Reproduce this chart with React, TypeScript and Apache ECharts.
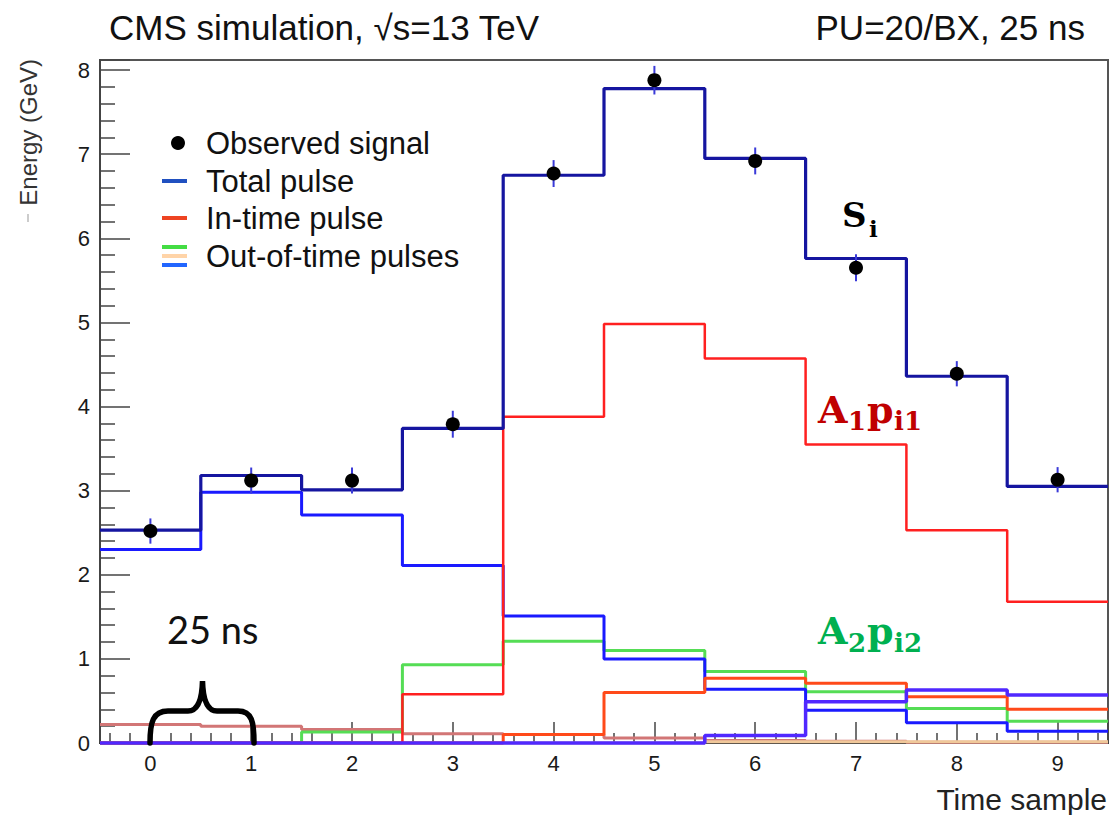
import React, { useEffect, useRef } from "react";
import * as echarts from "echarts";

// ---- data ----
const samples = [0, 1, 2, 3, 4, 5, 6, 7, 8, 9];
const observedSignal = [2.52, 3.12, 3.12, 3.79, 6.77, 7.88, 6.92, 5.65, 4.39, 3.13];
const observedError = [0.15, 0.155, 0.155, 0.16, 0.16, 0.17, 0.16, 0.16, 0.15, 0.15];
const totalPulse = [2.53, 3.18, 3.01, 3.74, 6.75, 7.78, 6.95, 5.76, 4.36, 3.05];
const inTimePulse = [0, 0, 0, 0.58, 3.88, 4.98, 4.57, 3.55, 2.53, 1.68];
const ootBlue = [2.3, 2.98, 2.71, 2.11, 1.51, 1.0, 0.64, 0.39, 0.24, 0.14];
const ootGreen = [0, 0, 0.13, 0.93, 1.21, 1.1, 0.85, 0.61, 0.41, 0.26];
const ootOrange = [0, 0, 0, 0, 0.1, 0.6, 0.77, 0.71, 0.55, 0.4];
const ootViolet = [0, 0, 0, 0, 0, 0, 0.09, 0.49, 0.63, 0.57];
const ootFaded = [0.22, 0.2, 0.16, 0.11, 0.1, 0.06, 0.03, 0.02, 0.01, 0.01];
const ootBeige = [0, 0, 0, 0, 0, 0, 0.015, 0.015, 0.015, 0.015];

const legendLabels = ["Observed signal", "Total pulse", "In-time pulse", "Out-of-time pulses"];

const SANS = "Liberation Sans";
const SERIF = "DejaVu Serif";

const BRACE_D =
  "M 150 743 C 150 722 153 711 168 711 L 188 711 C 198 711 202 700 202.5 681 C 203 700 207 711 217 711 L 238 711 C 252 711 254 722 254 743";
echarts.graphic.registerShape("brace", echarts.graphic.extendPath(BRACE_D, {}));

const stepData = (vals: number[]) =>
  vals.flatMap((v, i) => [
    [samples[i] - 0.5, v],
    [samples[i] + 0.5, v],
  ]);

const histLine = (name: string, vals: number[], color: string, width: number, z: number) => ({
  name,
  type: "line",
  data: stepData(vals),
  symbol: "none",
  showSymbol: false,
  clip: false,
  silent: true,
  z,
  lineStyle: { color, width },
});

const txt = (
  text: string,
  x: number,
  y: number,
  fontSize: number,
  fill: string,
  opts: any = {}
) => ({
  type: "text",
  x,
  y,
  z: 100,
  rotation: opts.rotation || 0,
  style: {
    text,
    fill,
    fontSize,
    fontFamily: opts.fontFamily || SANS,
    fontWeight: opts.fontWeight || "normal",
    align: opts.align || "left",
    verticalAlign: "middle",
  },
});

const hline = (x1: number, x2: number, y: number, color: string, w = 4) => ({
  type: "line",
  z: 100,
  shape: { x1, y1: y, x2, y2: y },
  style: { stroke: color, lineWidth: w },
});

export default function App() {
  const ref = useRef<HTMLDivElement>(null);

  useEffect(() => {
    if (!ref.current) return;
    const chart = echarts.init(ref.current, null, { renderer: "svg" });

    const tickStyle = { color: "#444", width: 1.5 };
    const intLabel = (v: number) => (Math.abs(v - Math.round(v)) < 1e-6 ? String(Math.round(v)) : "");

    const option: any = {
      animation: false,
      backgroundColor: "#ffffff",
      grid: {
        left: 100,
        right: 11,
        top: 60,
        bottom: 72,
        show: true,
        borderColor: "#555",
        borderWidth: 2,
        backgroundColor: "transparent",
      },
      xAxis: {
        type: "value",
        min: -0.5,
        max: 9.5,
        splitNumber: 10,
        minInterval: 1,
        maxInterval: 1,
        axisLine: { show: true, onZero: false, lineStyle: { color: "#333", width: 2 } },
        axisTick: { show: true, inside: true, length: 21, lineStyle: tickStyle },
        minorTick: { show: true, splitNumber: 5, length: 10, lineStyle: tickStyle },
        splitLine: { show: false },
        minorSplitLine: { show: false },
        axisLabel: {
          show: true,
          margin: 9,
          fontSize: 22,
          fontFamily: SANS,
          color: "#1a1a1a",
          showMinLabel: false,
          showMaxLabel: false,
          formatter: intLabel,
        },
      },
      yAxis: {
        type: "value",
        min: 0,
        max: 8.12,
        interval: 1,
        axisLine: { show: true, onZero: false, lineStyle: { color: "#444", width: 2 } },
        axisTick: { show: true, inside: true, length: 30, lineStyle: tickStyle },
        minorTick: { show: true, splitNumber: 5, length: 15, lineStyle: tickStyle },
        splitLine: { show: false },
        minorSplitLine: { show: false },
        axisLabel: {
          show: true,
          margin: 10,
          fontSize: 22,
          fontFamily: SANS,
          color: "#1a1a1a",
          showMaxLabel: false,
          formatter: intLabel,
        },
      },
      series: [
        histLine("Out-of-time (faded)", ootFaded, "#d27676", 3, 2),
        histLine("Out-of-time (beige)", ootBeige, "#f0c89a", 3, 2),
        histLine("Out-of-time (green)", ootGreen, "#55dd55", 3, 3),
        histLine("Out-of-time (blue)", ootBlue, "#1a1aff", 3, 3),
        histLine("Out-of-time (orange)", ootOrange, "#ff4a1a", 3, 3),
        histLine("In-time pulse", inTimePulse, "#ff2020", 2.5, 4),
        histLine("Out-of-time (violet)", ootViolet, "#5028ff", 3.5, 5),
        histLine("Total pulse", totalPulse, "#1515a0", 3.2, 6),
        {
          name: "Observed error",
          type: "custom",
          z: 7,
          silent: true,
          data: samples.map((s, i) => [s, observedSignal[i], observedError[i]]),
          renderItem: (params: any, api: any) => {
            const x = api.value(0);
            const y = api.value(1);
            const e = api.value(2);
            const top = api.coord([x, y + e]);
            const bot = api.coord([x, y - e]);
            return {
              type: "line",
              shape: { x1: top[0], y1: top[1], x2: bot[0], y2: bot[1] },
              style: { stroke: "#3a3ad8", lineWidth: 2 },
            };
          },
        },
        {
          name: "Observed signal",
          type: "scatter",
          z: 8,
          silent: true,
          symbol: "circle",
          symbolSize: 14,
          itemStyle: { color: "#000", opacity: 1 },
          data: samples.map((s, i) => [s, observedSignal[i]]),
        },
      ],
      graphic: [
        // titles
        txt("CMS simulation, \u221As=13 TeV", 109, 27, 35, "#111"),
        txt("PU=20/BX, 25 ns", 1085, 27, 35, "#111", { align: "right" }),
        // axis names
        txt("Energy (GeV)", 28, 59, 24, "#333", { rotation: Math.PI / 2, align: "right" }),
        { type: "line", z: 100, shape: { x1: 28, y1: 214, x2: 28, y2: 222 }, style: { stroke: "#bbb", lineWidth: 1.5 } },
        txt("Time sample", 1107, 799, 30, "#222", { align: "right" }),
        // legend
        { type: "circle", z: 100, shape: { cx: 178, cy: 143, r: 7 }, style: { fill: "#000" } },
        txt(legendLabels[0], 206, 143, 31, "#111"),
        hline(162, 187, 181, "#2050c0"),
        txt(legendLabels[1], 206, 181, 31, "#111"),
        hline(162, 187, 218, "#ee4422"),
        txt(legendLabels[2], 206, 218, 31, "#111"),
        hline(162, 187, 247, "#44dd44"),
        hline(162, 187, 256, "#ffd4a8"),
        hline(162, 187, 265, "#2266ff"),
        txt(legendLabels[3], 206, 256, 31, "#111"),
        // annotations
        txt("S", 842, 214.5, 34, "#000", { fontFamily: SERIF, fontWeight: "bold" }),
        txt("i", 869, 228, 23, "#000", { fontFamily: SERIF, fontWeight: "bold" }),
        txt("A", 818, 409, 38, "#c00000", { fontFamily: SERIF, fontWeight: "bold" }),
        txt("1", 848, 421, 26, "#c00000", { fontFamily: SERIF, fontWeight: "bold" }),
        txt("p", 867, 409, 38, "#c00000", { fontFamily: SERIF, fontWeight: "bold" }),
        txt("i1", 894, 421, 26, "#c00000", { fontFamily: SERIF, fontWeight: "bold" }),
        txt("A", 818, 630, 38, "#00b050", { fontFamily: SERIF, fontWeight: "bold" }),
        txt("2", 848, 643, 26, "#00b050", { fontFamily: SERIF, fontWeight: "bold" }),
        txt("p", 867, 630, 38, "#00b050", { fontFamily: SERIF, fontWeight: "bold" }),
        txt("i2", 894, 643, 26, "#00b050", { fontFamily: SERIF, fontWeight: "bold" }),
        txt("25 ns", 167, 629, 38, "#111", { fontFamily: "Lato" }),
        {
          type: "brace",
          z: 100,
          x: 0,
          y: 0,
          style: { stroke: "#000", lineWidth: 5.5, fill: "none", lineCap: "round" },
        },
      ],
    };

    chart.setOption(option);
    return () => chart.dispose();
  }, []);

  return (
    <div
      ref={ref}
      style={{ position: "fixed", left: 0, top: 0, width: 1119, height: 815, background: "#fff" }}
    />
  );
}
